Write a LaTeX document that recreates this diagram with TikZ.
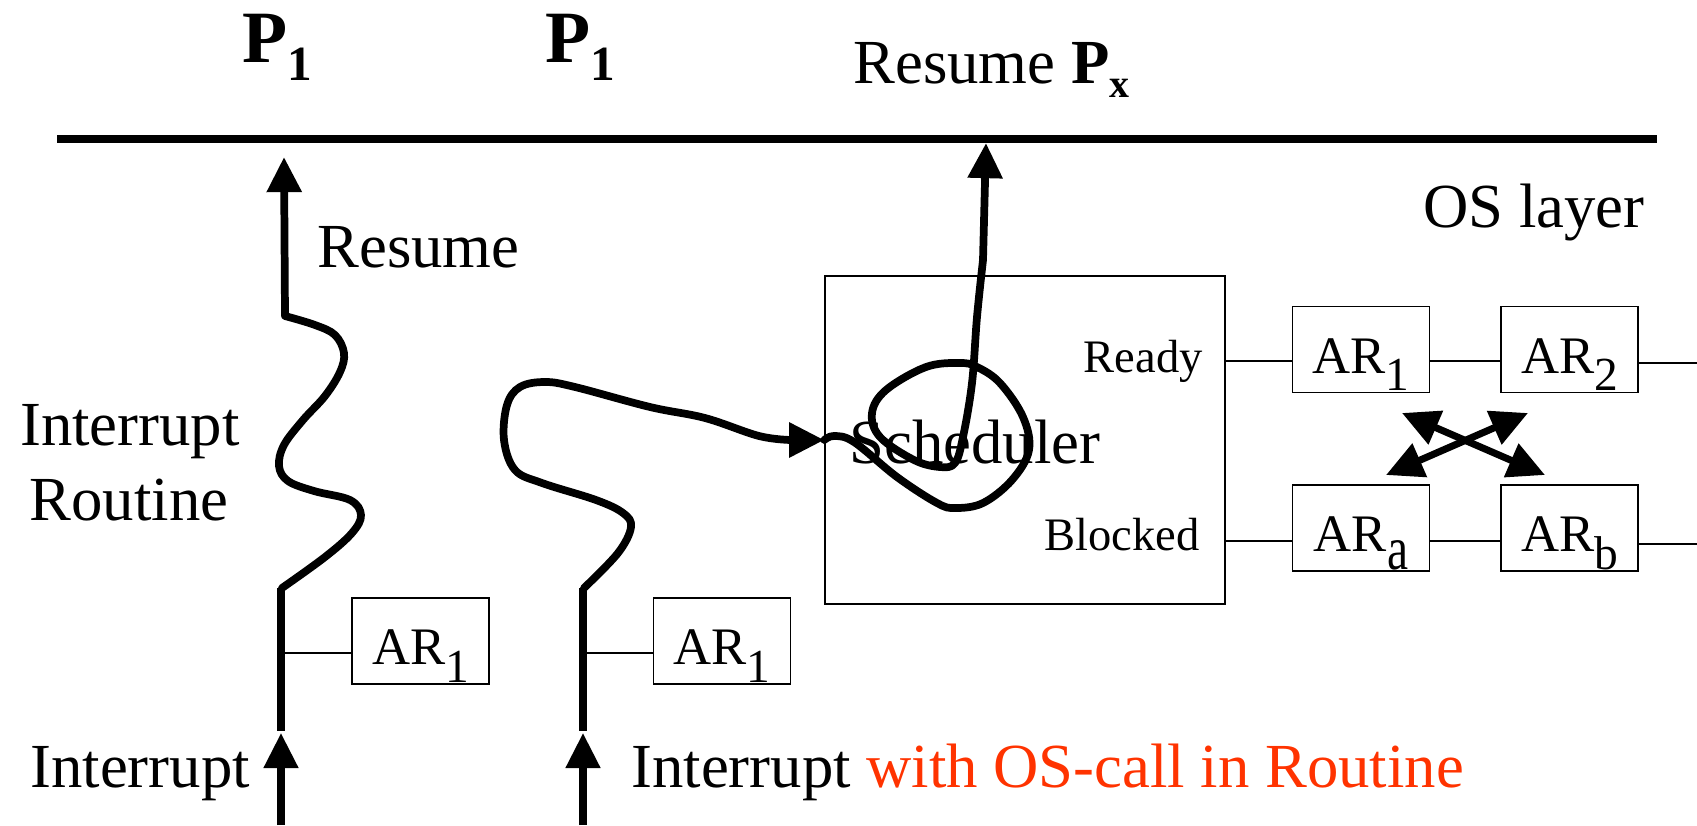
\documentclass[tikz,border=0pt]{standalone}
\usepackage{fontspec}
\setmainfont{Liberation Serif}
\usetikzlibrary{arrows.meta}
\definecolor{osred}{RGB}{255,51,0}
\newcommand{\mainsz}{\fontsize{35.7}{42.7}\selectfont}
\newcommand{\smallsz}{\fontsize{26.5}{30}\selectfont}
\newcommand{\arsz}{\fontsize{30}{34}\selectfont}
\newcommand{\ARs}[1]{AR\raisebox{-10pt}{\fontsize{27}{29}\selectfont #1}}
\newcommand{\Pone}{{\fontsize{42}{46}\selectfont\bfseries P\raisebox{-10.8pt}{\fontsize{28}{30}\selectfont 1}}}
\begin{document}
\begin{tikzpicture}[x=0.02cm, y=-0.02cm,
  conn/.style={line width=0.85pt},
  arbox/.style={draw, line width=0.85pt, minimum width=78pt, minimum height=49pt,
    inner sep=0pt, text height=27pt, text depth=0pt, font=\arsz},
  txt/.style={inner sep=0pt, font=\mainsz},
  small/.style={inner sep=0pt, font=\smallsz},
  heavy/.style={line width=4pt},
  wave/.style={line width=4.4pt, line join=round, line cap=round},
  headed/.style={-{Triangle[length=20pt,width=19pt]}},
  dheaded/.style={{Triangle[length=21pt,width=20pt]}-{Triangle[length=21pt,width=20pt]}},
]
\useasboundingbox (0,0) rectangle (1697,825);

% top line
\coordinate (tl) at (57,139);
\coordinate (tr) at (1657,139);
\draw[line width=4.7pt] (tl) -- (tr);

% labels at top
\node[inner sep=0pt, anchor=base west] (p1a) at (242,62) {\Pone};
\node[inner sep=0pt, anchor=base west] (p1b) at (545,62) {\Pone};
\node[txt, anchor=base west] (rpx) at (853,83)
  {Resume \textbf{P}\raisebox{-8.5pt}{\fontsize{22.7}{25}\selectfont\bfseries x}};
\node[txt, anchor=base west] (os) at (1423,227) {OS layer};

% left labels
\node[txt, anchor=base west] (res) at (317,267) {Resume};
\node[txt, anchor=base] (ir1) at (130,445) {Interrupt};
\node[txt, anchor=base] (ir2) at (129,520) {Routine};
\node[txt, anchor=base west] (int1) at (30,787) {Interrupt};
\node[txt, anchor=base west] (int2) at (631,787) {Interrupt \textcolor{osred}{with OS-call in Routine}};

% scheduler box
\node[draw, line width=0.85pt, minimum width=227.6pt, minimum height=186.6pt, inner sep=0pt] (sched) at (1025,440) {};
\node[txt, anchor=base west] (schedtxt) at (849,463) {Scheduler};
\node[small, anchor=base east] (ready) at (1203,372) {Ready};
\node[small, anchor=base east] (blocked) at (1200,550) {Blocked};

% AR boxes right
\node[arbox] (ar1) at (1361,349.5) {\ARs{1}};
\node[arbox] (ar2) at (1569.5,349.5) {\ARs{2}};
\node[arbox] (ara) at (1361,528) {\ARs{\scalebox{1}[1.3]{a}}};
\node[arbox] (arb) at (1569.5,528) {\ARs{b}};

\coordinate (rl) at (0,361);
\coordinate (rr) at (1697,363);
\coordinate (bl) at (0,541);
\coordinate (br) at (1697,544);
\draw[conn] (sched.east |- rl) -- (ar1.west |- rl);
\draw[conn] (ar1.east |- rl) -- (ar2.west |- rl);
\draw[conn] (ar2.east |- rr) -- (rr);
\draw[conn] (sched.east |- bl) -- (ara.west |- bl);
\draw[conn] (ara.east |- bl) -- (arb.west |- bl);
\draw[conn] (arb.east |- br) -- (br);

% crossing arrows
\coordinate (xa1) at (1386,475);
\coordinate (xa2) at (1528,413);
\coordinate (xb1) at (1402,413);
\coordinate (xb2) at (1545,475);
\draw[line width=4pt, dheaded] (xa1) -- (xa2);
\draw[line width=4pt, dheaded] (xb1) -- (xb2);

% AR boxes lower left
\node[arbox] (arL) at (420.5,641) {\ARs{1}};
\node[arbox] (arM) at (722,641) {\ARs{1}};

% process 1
\coordinate (a0) at (281,825);
\coordinate (a1) at (281,733);
\coordinate (a2) at (281,588);
\coordinate (a3) at (281,731);
\coordinate (c1) at (281,653);
\coordinate (r1tip) at (284,157);
\draw[heavy, headed] (a0) -- (a1);
\draw[heavy] (a2) -- (a3);
\draw[conn] (c1) -- (c1 -| arL.west);
\draw[wave, headed] plot[smooth, tension=0.6] coordinates {(282,588) (325,557) (352,533) (361,515) (350,500) (314,491) (288,481) (279,466) (284,445) (303,420) (325,396) (340,372) (344,353) (335,335) (315,325) (285,316)} -- (r1tip);

% process 2
\coordinate (b0) at (583,825);
\coordinate (b1) at (583,733);
\coordinate (b2) at (583,588);
\coordinate (b3) at (583,731);
\coordinate (c2) at (583,653);
\coordinate (pxtip) at (986,143);
\draw[heavy, headed] (b0) -- (b1);
\draw[heavy] (b2) -- (b3);
\draw[conn] (c2) -- (c2 -| arM.west);
\draw[wave, headed] plot[smooth, tension=0.6] coordinates {(584,588) (618,553) (631,527) (623,513) (596,500) (542,483) (515,470) (504,440) (507,405) (520,387) (545,382) (575,387) (650,407) (705,418) (759,436) (791,440)} -- (sched.west);
\draw[wave, headed] plot[smooth, tension=0.6] coordinates {(sched.west) (834,436) (854,442) (897,477) (937,503) (955,508) (983,503) (1012,480) (1029,450) (1023,417) (1000,383) (977,367) (960,363) (926,367) (886,390) (872,413) (880,437) (914,460) (940,467) (955,463) (963,437) (972,383) (977,317) (983,260)} -- (pxtip);
\end{tikzpicture}
\end{document}
